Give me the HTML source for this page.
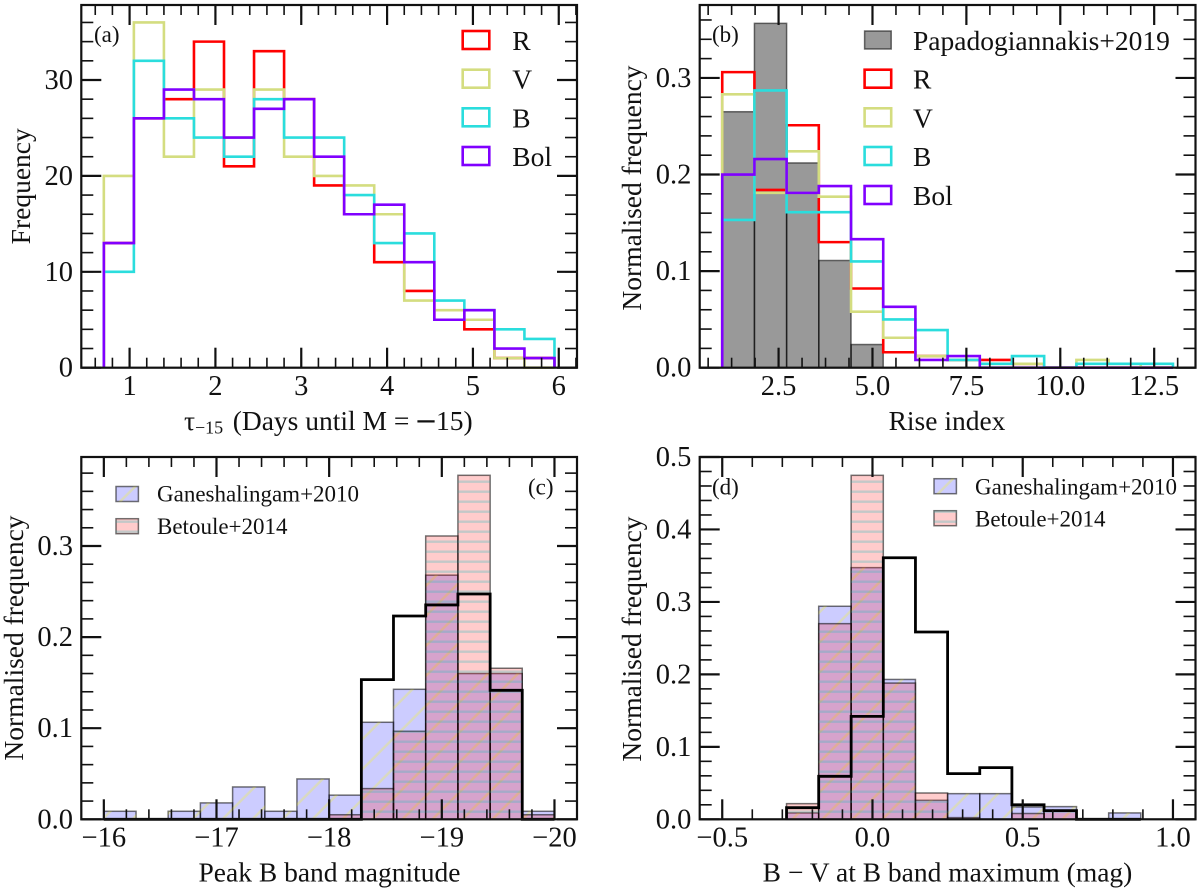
<!DOCTYPE html>
<html lang="en">
<head>
<meta charset="utf-8">
<title>Histogram panels</title>
<style>
html,body{margin:0;padding:0;background:#fff;}
svg{display:block;font-family:"Liberation Serif",serif;fill:#111;}
text{font-family:"Liberation Serif",serif;fill:#111;}
.axis-title{font-size:27.5px;}
.legend-lg{font-size:27.5px;}
.legend-sm{font-size:23px;}
.panel-label{font-size:23px;}
</style>
</head>
<body>
<svg id="figure" xmlns="http://www.w3.org/2000/svg" width="1200" height="894" viewBox="0 0 1200 894">
  <defs>
    <pattern id="hatchBlue" patternUnits="userSpaceOnUse" x="21.7" y="0" width="30" height="30">
      <path d="M-3,3 L3,-3 M-3,33 L33,-3 M27,33 L33,27" stroke="rgb(255,255,0)" stroke-opacity="0.25" stroke-width="2.4" fill="none"/>
    </pattern>
    <pattern id="hatchRed" patternUnits="userSpaceOnUse" x="0" y="0" width="10" height="10">
      <rect x="0" y="0.5" width="10" height="2.4" fill="rgb(35,188,188)" fill-opacity="0.27"/>
    </pattern>
  </defs>
  <rect x="0" y="0" width="1200" height="894" fill="#fff"/>
  <g id="panel-a"></g>
  <g id="panel-b"></g>
  <g id="panel-c"></g>
  <g id="panel-d"></g>

  <text class="axis-title" y="430"><tspan x="184">τ</tspan><tspan x="195" y="433.3" font-size="18">−15</tspan><tspan x="232.7" y="430">(Days until M =</tspan><tspan x="414.5" y="430" style="font-family:'DejaVu Sans',sans-serif">−</tspan><tspan x="436" y="430">15)</tspan></text>
  <text class="axis-title" transform="translate(30,186.3) rotate(-90)" text-anchor="middle">Frequency</text>
  <text class="axis-title" x="947" y="430" text-anchor="middle">Rise index</text>
  <text class="axis-title" transform="translate(641,188) rotate(-90)" text-anchor="middle">Normalised frequency</text>
  <text class="axis-title" x="329.5" y="881.3" text-anchor="middle">Peak B band magnitude</text>
  <text class="axis-title" transform="translate(23,638) rotate(-90)" text-anchor="middle">Normalised frequency</text>
  <text class="axis-title" x="947.5" y="881.3" text-anchor="middle">B − V at B band maximum (mag)</text>
  <text class="axis-title" transform="translate(641,639) rotate(-90)" text-anchor="middle">Normalised frequency</text>

  <text class="panel-label" x="94" y="42">(a)</text>
  <text class="panel-label" x="712" y="42">(b)</text>
  <text class="panel-label" x="528" y="494.7">(c)</text>
  <text class="panel-label" x="712" y="494.7">(d)</text>

  <g fill="none" stroke-width="2.6">
    <g><rect x="462.7" y="31" width="26.6" height="18" stroke="#ff0000" fill="none"/><text class="legend-lg" x="512.3" y="50" stroke="none">R</text></g>
    <g><rect x="462.7" y="69.7" width="26.6" height="18" stroke="#d4dd80" fill="none"/><text class="legend-lg" x="512.3" y="88.5" stroke="none">V</text></g>
    <g><rect x="462.7" y="108.3" width="26.6" height="18" stroke="#2adddd" fill="none"/><text class="legend-lg" x="512.3" y="127.3" stroke="none">B</text></g>
    <g><rect x="462.7" y="147" width="26.6" height="18" stroke="#8000ff" fill="none"/><text class="legend-lg" x="512.3" y="166" stroke="none">Bol</text></g>
  </g>

  <g fill="none" stroke-width="2.6">
    <g><rect x="864.6" y="31" width="26.6" height="18" fill="rgba(0,0,0,0.4)" stroke="rgba(0,0,0,0.55)" stroke-width="1.5"/><text class="legend-lg" x="913" y="50" stroke="none">Papadogiannakis+2019</text></g>
    <g><rect x="864.6" y="69.7" width="26.6" height="18" stroke="#ff0000" fill="none"/><text class="legend-lg" x="913" y="88.5" stroke="none">R</text></g>
    <g><rect x="864.6" y="108.3" width="26.6" height="18" stroke="#d4dd80" fill="none"/><text class="legend-lg" x="913" y="127.3" stroke="none">V</text></g>
    <g><rect x="864.6" y="147" width="26.6" height="18" stroke="#2adddd" fill="none"/><text class="legend-lg" x="913" y="166" stroke="none">B</text></g>
    <g><rect x="864.6" y="186" width="26.6" height="18" stroke="#8000ff" fill="none"/><text class="legend-lg" x="913" y="205" stroke="none">Bol</text></g>
  </g>

  <g>
    <g>
      <rect x="116" y="486.5" width="22.4" height="15" fill="rgba(0,0,255,0.2)" stroke="rgba(0,0,0,0.55)" stroke-width="1.5"/>
      <rect x="116" y="486.5" width="22.4" height="15" fill="url(#hatchBlue)"/>
      <text class="legend-sm" x="157" y="501.3">Ganeshalingam+2010</text>
    </g>
    <g>
      <rect x="116" y="518.7" width="22.4" height="15" fill="rgba(255,0,0,0.2)" stroke="rgba(0,0,0,0.55)" stroke-width="1.5"/>
      <rect x="116" y="518.7" width="22.4" height="15" fill="url(#hatchRed)"/>
      <text class="legend-sm" x="157" y="534">Betoule+2014</text>
    </g>
  </g>

  <g>
    <g>
      <rect x="934" y="478.7" width="22.4" height="15" fill="rgba(0,0,255,0.2)" stroke="rgba(0,0,0,0.55)" stroke-width="1.5"/>
      <rect x="934" y="478.7" width="22.4" height="15" fill="url(#hatchBlue)"/>
      <text class="legend-sm" x="975" y="494.3">Ganeshalingam+2010</text>
    </g>
    <g>
      <rect x="934" y="510.7" width="22.4" height="15" fill="rgba(255,0,0,0.2)" stroke="rgba(0,0,0,0.55)" stroke-width="1.5"/>
      <rect x="934" y="510.7" width="22.4" height="15" fill="url(#hatchRed)"/>
      <text class="legend-sm" x="975" y="526.3">Betoule+2014</text>
    </g>
  </g>
</svg>

<script>
// ---------- Panel (a) data ----------
const aBinEdges = [0.7,1.05,1.4,1.75,2.1,2.45,2.8,3.15,3.5,3.85,4.2,4.55,4.9,5.25,5.6,5.95];
const aR   = [13,26,28,34,21,33,28,19,16,11,8,5,4,1,1];
const aV   = [20,36,22,29,24,29,22,20,19,16,7,6,5,1,0];
const aB   = [10,32,26,24,22,28,24,24,18,13,14,7,6,4,3];
const aBol = [13,26,29,28,24,27,28,22,16,17,11,5,6,2,1];
const aXTicks = [1,2,3,4,5,6];
const aXTickLabels = ['1','2','3','4','5','6'];
const aYTicks = [0,10,20,30];
const aYTickLabels = ['0','10','20','30'];

// ---------- Panel (b) data ----------
const bBinEdges = [1,1.857,2.714,3.571,4.429,5.286,6.143,7,7.857,8.714,9.571,10.429,11.286,12.143,13];
const bPapadogiannakis = [0.265,0.3565,0.212,0.111,0.024,0,0,0,0,0,0,0,0,0];
const bR   = [0.306,0.184,0.251,0.13,0.082,0.016,0.012,0.008,0.008,0.004,0,0,0,0];
const bV   = [0.283,0.181,0.224,0.177,0.058,0.031,0.012,0.008,0.004,0.004,0,0.008,0.004,0];
const bB   = [0.153,0.287,0.161,0.161,0.11,0.05,0.039,0.008,0.004,0.012,0,0.004,0.004,0.004];
const bBol = [0.2,0.216,0.181,0.188,0.133,0.063,0.008,0.012,0,0,0,0,0,0];
const bXTicks = [2.5,5,7.5,10,12.5];
const bXTickLabels = ['2.5','5.0','7.5','10.0','12.5'];
const bYTicks = [0,0.1,0.2,0.3];
const bYTickLabels = ['0.0','0.1','0.2','0.3'];

// ---------- Panel (c) data ----------
const cBinEdges = [-16,-16.286,-16.571,-16.857,-17.143,-17.429,-17.714,-18,-18.286,-18.571,-18.857,-19.143,-19.429,-19.714,-20];
const cGaneshalingam = [0.0088,0,0.0088,0.018,0.0355,0.0088,0.0443,0.0265,0.1065,0.1427,0.268,0.16,0.16,0.0088];
const cBetoule = [0,0,0,0,0,0,0,0.005,0.0337,0.0966,0.311,0.3776,0.1658,0.005];
const cSample  = [0,0,0,0,0,0,0,0,0.1533,0.2232,0.2353,0.2473,0.1416,0];
const cXTicks = [-16,-17,-18,-19,-20];
const cXTickLabels = ['−16','−17','−18','−19','−20'];
const cYTicks = [0,0.1,0.2,0.3];
const cYTickLabels = ['0.0','0.1','0.2','0.3'];

// ---------- Panel (d) data ----------
const dBinEdges = [-0.286,-0.179,-0.071,0.036,0.143,0.25,0.357,0.464,0.571,0.679,0.786,0.893];
const dGaneshalingam = [0.0088,0.294,0.3473,0.193,0.0262,0.0354,0.0354,0.017,0.0175,0,0.0088];
const dBetoule = [0.0216,0.27,0.4747,0.188,0.0363,0.0023,0,0.008,0.012,0,0];
const dSample  = [0.016,0.0593,0.142,0.361,0.2585,0.063,0.0713,0.02,0.012,0,0];
const dXTicks = [-0.5,0,0.5,1];
const dXTickLabels = ['−0.5','0.0','0.5','1.0'];
const dYTicks = [0,0.1,0.2,0.3,0.4,0.5];
const dYTickLabels = ['0.0','0.1','0.2','0.3','0.4','0.5'];

const SVG_NS = 'http://www.w3.org/2000/svg';
const FRAME = '#111';
const TICK_FONT = 28.5;
const LEFT_COL = {left:81.3, right:577};
const RIGHT_COL = {left:699.7, right:1195.5};
const TOP_ROW = {top:5, bottom:367.7};
const BOTTOM_ROW = {top:457, bottom:819.3};

function make(tag, attrs, parent){
  const el = document.createElementNS(SVG_NS, tag);
  for (const k in attrs) el.setAttribute(k, attrs[k]);
  parent.appendChild(el);
  return el;
}
function scaleLinear(d0, d1, r0, r1){
  return function(v){ return r0 + (v - d0) * (r1 - r0) / (d1 - d0); };
}
function stepPath(edges, values, X, Y){
  let d = 'M' + X(edges[0]) + ',' + Y(0);
  for (let i = 0; i < values.length; i++){
    d += ' L' + X(edges[i]) + ',' + Y(values[i]);
    d += ' L' + X(edges[i + 1]) + ',' + Y(values[i]);
  }
  d += ' L' + X(edges[edges.length - 1]) + ',' + Y(0);
  return d;
}
function drawStep(panel, prefix, seriesName, edges, values, X, Y, color, width){
  const line = make('path', {d:stepPath(edges, values, X, Y), fill:'none', stroke:color, 'stroke-width':width, 'stroke-linejoin':'miter'}, panel);
  
  
}
function drawBars(panel, prefix, seriesName, edges, values, X, Y, fill, hatch, edgeColor){
  for (let i = 0; i < values.length; i++){
    if (values[i] <= 0) continue;
    const x0 = Math.min(X(edges[i]), X(edges[i + 1]));
    const w = Math.abs(X(edges[i + 1]) - X(edges[i]));
    const top = Y(values[i]);
    const h = Y(0) - top;
    const bar = make('rect', {x:x0, y:top, width:w, height:h, fill:fill, stroke:edgeColor, 'stroke-width':1.5}, panel);
    
    
    if (hatch){
      const hatchRect = make('rect', {x:x0, y:top, width:w, height:h, fill:hatch}, panel);
      
      
    }
  }
}
function drawAxes(panel, prefix, box, X, Y, xDomain, yMax, xTicks, xLabels, xMinorStep, yTicks, yLabels, yMinorStep){
  const xLo = Math.min(xDomain[0], xDomain[1]);
  const xHi = Math.max(xDomain[0], xDomain[1]);
  const MAJOR = 20, MINOR = 10;
  function tick(x1, y1, x2, y2, w, name){
    const t = make('line', {x1:x1, y1:y1, x2:x2, y2:y2, stroke:FRAME, 'stroke-width':w}, panel);
    
    
  }
  const firstXMinor = Math.ceil(xLo / xMinorStep - 1e-9);
  const lastXMinor = Math.floor(xHi / xMinorStep + 1e-9);
  for (let k = firstXMinor; k <= lastXMinor; k++){
    const px = X(k * xMinorStep);
    tick(px, box.bottom, px, box.bottom - MINOR, 1.6, prefix + '-x-minor-tick-bottom');
    tick(px, box.top, px, box.top + MINOR, 1.6, prefix + '-x-minor-tick-top');
  }
  const lastYMinor = Math.floor(yMax / yMinorStep + 1e-9);
  for (let k = 0; k <= lastYMinor; k++){
    const py = Y(k * yMinorStep);
    tick(box.left, py, box.left + MINOR + 2, py, 1.6, prefix + '-y-minor-tick-left');
    tick(box.right, py, box.right - MINOR - 2, py, 1.6, prefix + '-y-minor-tick-right');
  }
  xTicks.forEach(function(v, i){
    const px = X(v);
    tick(px, box.bottom, px, box.bottom - MAJOR, 2.2, prefix + '-x-major-tick-bottom');
    tick(px, box.top, px, box.top + MAJOR, 2.2, prefix + '-x-major-tick-top');
    const lab = make('text', {x:px, y:box.bottom + 27.3, 'text-anchor':'middle', 'font-size':TICK_FONT}, panel);
    lab.textContent = xLabels[i];
    
    
  });
  yTicks.forEach(function(v, i){
    const py = Y(v);
    tick(box.left, py, box.left + MAJOR, py, 2.2, prefix + '-y-major-tick-left');
    tick(box.right, py, box.right - MAJOR, py, 2.2, prefix + '-y-major-tick-right');
    const lab = make('text', {x:box.left - 8.3, y:py + 9, 'text-anchor':'end', 'font-size':TICK_FONT}, panel);
    lab.textContent = yLabels[i];
    
    
  });
  const frame = make('rect', {x:box.left, y:box.top, width:box.right - box.left, height:box.bottom - box.top, fill:'none', stroke:FRAME, 'stroke-width':2.2}, panel);
  
  
}

// Panel (a)
(function(){
  const panel = document.getElementById('panel-a');
  const box = {left:LEFT_COL.left, right:LEFT_COL.right, top:TOP_ROW.top, bottom:TOP_ROW.bottom};
  const xDomain = [0.4375, 6.2125], yMax = 37.82;
  const X = scaleLinear(xDomain[0], xDomain[1], box.left, box.right);
  const Y = scaleLinear(0, yMax, box.bottom, box.top);
  drawStep(panel, 'panel-a', 'r', aBinEdges, aR, X, Y, '#ff0000', 2.6);
  drawStep(panel, 'panel-a', 'v', aBinEdges, aV, X, Y, '#d4dd80', 2.6);
  drawStep(panel, 'panel-a', 'b', aBinEdges, aB, X, Y, '#2adddd', 2.6);
  drawStep(panel, 'panel-a', 'bol', aBinEdges, aBol, X, Y, '#8000ff', 2.6);
  drawAxes(panel, 'panel-a', box, X, Y, xDomain, yMax, aXTicks, aXTickLabels, 0.2, aYTicks, aYTickLabels, 2);
})();

// Panel (b)
(function(){
  const panel = document.getElementById('panel-b');
  const box = {left:RIGHT_COL.left, right:RIGHT_COL.right, top:TOP_ROW.top, bottom:TOP_ROW.bottom};
  const xDomain = [0.4, 13.6], yMax = 0.3755;
  const X = scaleLinear(xDomain[0], xDomain[1], box.left, box.right);
  const Y = scaleLinear(0, yMax, box.bottom, box.top);
  drawBars(panel, 'panel-b', 'papadogiannakis', bBinEdges, bPapadogiannakis, X, Y, 'rgba(0,0,0,0.4)', null, 'rgba(0,0,0,0.55)');
  drawStep(panel, 'panel-b', 'r', bBinEdges, bR, X, Y, '#ff0000', 2.6);
  drawStep(panel, 'panel-b', 'v', bBinEdges, bV, X, Y, '#d4dd80', 2.6);
  drawStep(panel, 'panel-b', 'b', bBinEdges, bB, X, Y, '#2adddd', 2.6);
  drawStep(panel, 'panel-b', 'bol', bBinEdges, bBol, X, Y, '#8000ff', 2.6);
  drawAxes(panel, 'panel-b', box, X, Y, xDomain, yMax, bXTicks, bXTickLabels, 0.625, bYTicks, bYTickLabels, 0.02);
})();

// Panel (c)
(function(){
  const panel = document.getElementById('panel-c');
  const box = {left:LEFT_COL.left, right:LEFT_COL.right, top:BOTTOM_ROW.top, bottom:BOTTOM_ROW.bottom};
  const xDomain = [-15.8, -20.2], yMax = 0.3977;
  const X = scaleLinear(xDomain[0], xDomain[1], box.left, box.right);
  const Y = scaleLinear(0, yMax, box.bottom, box.top);
  drawBars(panel, 'panel-c', 'ganeshalingam', cBinEdges, cGaneshalingam, X, Y, 'rgba(0,0,255,0.2)', 'url(#hatchBlue)', 'rgba(0,0,0,0.55)');
  drawBars(panel, 'panel-c', 'betoule', cBinEdges, cBetoule, X, Y, 'rgba(255,0,0,0.2)', 'url(#hatchRed)', 'rgba(0,0,0,0.55)');
  drawStep(panel, 'panel-c', 'sample', cBinEdges, cSample, X, Y, '#000', 2.8);
  drawAxes(panel, 'panel-c', box, X, Y, xDomain, yMax, cXTicks, cXTickLabels, 0.2, cYTicks, cYTickLabels, 0.02);
})();

// Panel (d)
(function(){
  const panel = document.getElementById('panel-d');
  const box = {left:RIGHT_COL.left, right:RIGHT_COL.right, top:BOTTOM_ROW.top, bottom:BOTTOM_ROW.bottom};
  const xDomain = [-0.575, 1.075], yMax = 0.5;
  const X = scaleLinear(xDomain[0], xDomain[1], box.left, box.right);
  const Y = scaleLinear(0, yMax, box.bottom, box.top);
  drawBars(panel, 'panel-d', 'ganeshalingam', dBinEdges, dGaneshalingam, X, Y, 'rgba(0,0,255,0.2)', 'url(#hatchBlue)', 'rgba(0,0,0,0.55)');
  drawBars(panel, 'panel-d', 'betoule', dBinEdges, dBetoule, X, Y, 'rgba(255,0,0,0.2)', 'url(#hatchRed)', 'rgba(0,0,0,0.55)');
  drawStep(panel, 'panel-d', 'sample', dBinEdges, dSample, X, Y, '#000', 2.8);
  drawAxes(panel, 'panel-d', box, X, Y, xDomain, yMax, dXTicks, dXTickLabels, 0.1, dYTicks, dYTickLabels, 0.02);
})();
</script>
</body>
</html>
